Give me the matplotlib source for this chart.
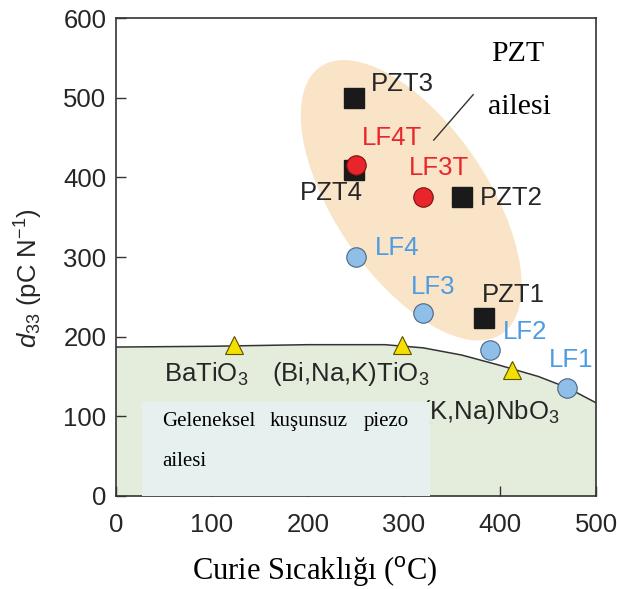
import matplotlib
matplotlib.use("Agg")
import matplotlib.pyplot as plt
from matplotlib.patches import Ellipse, Rectangle

plt.rcParams['font.family'] = ['Liberation Sans', 'DejaVu Sans']
plt.rcParams['mathtext.fontset'] = 'custom'
plt.rcParams['mathtext.rm'] = 'Liberation Sans'
plt.rcParams['mathtext.it'] = 'Liberation Sans:italic'

# ---- data ----
pzt_names = ["PZT3", "PZT4", "PZT2", "PZT1"]
pzt_tc = [248, 248, 360, 383]
pzt_d33 = [500, 410, 375, 223]

lft_names = ["LF4T", "LF3T"]
lft_tc = [250, 320]
lft_d33 = [416, 375]

lf_names = ["LF4", "LF3", "LF2", "LF1"]
lf_tc = [250, 320, 390, 470]
lf_d33 = [300, 230, 183, 135]

conv_names = ["BaTiO$_3$", "(Bi,Na,K)TiO$_3$", "(K,Na)NbO$_3$"]
conv_tc = [123, 298, 412]
conv_d33 = [190, 189, 158]

curve_tc = [0, 100, 200, 280, 320, 360, 400, 440, 470, 500]
curve_d33 = [187, 188, 190, 190, 186, 177, 164, 150, 136, 117]

x_ticks = [0, 100, 200, 300, 400, 500]
y_ticks = [0, 100, 200, 300, 400, 500, 600]

# label positions (data coords, left/center)
label_pos = {
    "PZT3": (265, 518), "PZT4": (192, 380), "PZT2": (379, 374), "PZT1": (381, 253),
    "LF4T": (256, 449), "LF3T": (305, 412),
    "LF4": (270, 312), "LF3": (307, 262), "LF2": (403, 206), "LF1": (451, 171),
    "BaTiO$_3$": (50, 153), "(Bi,Na,K)TiO$_3$": (163, 153), "(K,Na)NbO$_3$": (318, 105),
}

fig = plt.figure(figsize=(6.17, 5.89), dpi=100)
ax = fig.add_axes([0.188, 0.158, 0.778, 0.811])
ax.set_xlim(0, 500)
ax.set_ylim(0, 600)

txtc = "#262626"
lfs = 18.5

# PZT family ellipse (in axes coords, axes are nearly square)
ell = Ellipse((0.615, 0.619), 0.675, 0.318, angle=-56, transform=ax.transAxes,
              facecolor="#fae4c8", edgecolor="none", zorder=1)
ax.add_patch(ell)

# conventional lead-free region
ax.fill_between(curve_tc, 0, curve_d33, color="#e4eddb", zorder=1.5, linewidth=0)
ax.plot(curve_tc, curve_d33, color="#333333", lw=1.1, zorder=2)

# labels
for n in pzt_names:
    ax.text(*label_pos[n], n, fontsize=lfs, color=txtc, ha="left", va="center", zorder=3)
for n in lft_names:
    ax.text(*label_pos[n], n, fontsize=lfs, color="#e8262b", ha="left", va="center", zorder=3)
for n in lf_names:
    ax.text(*label_pos[n], n, fontsize=lfs, color="#4d9be0", ha="left", va="center", zorder=3)
for n in conv_names:
    ax.text(*label_pos[n], n, fontsize=lfs, color=txtc, ha="left", va="center", zorder=3)

# box of conventional lead-free family
ax.add_patch(Rectangle((27, 0), 300, 118, facecolor="#e6f1ef", edgecolor="none", zorder=4))
serif = ['Liberation Serif', 'DejaVu Serif']
ax.text(48, 88, "Geleneksel", family=serif, fontsize=15, color="black", ha="left",
        va="baseline", zorder=5)
ax.text(160, 88, "kuşunsuz", family=serif, fontsize=15, color="black", ha="left",
        va="baseline", zorder=5)
ax.text(305, 88, "piezo", family=serif, fontsize=15, color="black", ha="right",
        va="baseline", zorder=5)
ax.text(48, 37, "ailesi", family=serif, fontsize=15, color="black", ha="left",
        va="baseline", zorder=5)

# markers
ax.plot(pzt_tc, pzt_d33, ls="none", marker="s", ms=14, color="#1a1a1a", zorder=6)
ax.plot(lft_tc, lft_d33, ls="none", marker="o", ms=14, mfc="#e8252b", mec="#7a1010",
        mew=0.8, zorder=7)
ax.plot(lf_tc, lf_d33, ls="none", marker="o", ms=14, mfc="#8fbfe9", mec="#4a6680",
        mew=0.8, zorder=7)
ax.plot(conv_tc, conv_d33, ls="none", marker="^", ms=13, mfc="#f3df00", mec="#5a5000",
        mew=0.8, zorder=7)

# PZT family annotation
ax.plot([372, 331], [504, 447], color="#333333", lw=1.0, zorder=3)
ax.text(391, 555, "PZT", family=serif, fontsize=21.5, color="black", ha="left",
        va="center", zorder=5)
ax.text(388, 488, "ailesi", family=serif, fontsize=21.5, color="black", ha="left",
        va="center", zorder=5)

# axes styling
ax.set_xticks(x_ticks)
ax.set_yticks(y_ticks)
ax.tick_params(direction="in", length=7, width=1, colors="#333333", labelsize=18.5,
               labelcolor=txtc)
ax.tick_params(axis="x", pad=12)
ax.tick_params(axis="y", pad=7)
for s in ax.spines.values():
    s.set_color("#333333")
    s.set_linewidth(1.2)

fig.text(29 / 617, 1 - 278 / 589, r"$d_{33}$ (pC N$^{\mathrm{-1}}$)", rotation=90,
         fontsize=18.5, color=txtc, ha="center", va="center")
fig.text(315 / 617, 1 - 580 / 589, r"Curie Sıcaklığı ($^{\mathrm{o}}$C)", family=serif,
         fontsize=22, color="black", ha="center", va="baseline")

fig.savefig("out.png", dpi=100)
